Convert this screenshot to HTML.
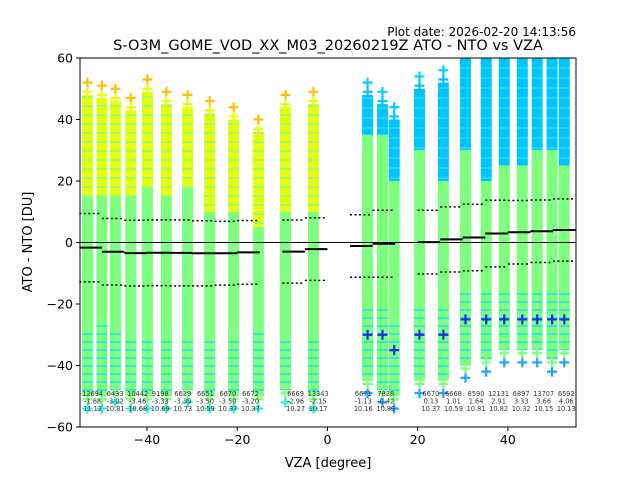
<!DOCTYPE html>
<html><head><meta charset="utf-8"><style>
body{margin:0;background:#fff;width:640px;height:480px;overflow:hidden;font-family:"DejaVu Sans","Liberation Sans",sans-serif}
svg text{font-family:"DejaVu Sans","Liberation Sans",sans-serif}
</style></head><body>
<svg id="c" width="640" height="480">
<defs>
<pattern id="pY" width="12" height="9" patternUnits="userSpaceOnUse"><rect width="12" height="9" fill="#e6ff10"/><rect y="6" width="12" height="2" fill="#9cff60"/></pattern>
<pattern id="pB" width="12" height="10" patternUnits="userSpaceOnUse"><rect width="12" height="10" fill="#00c4ff"/><rect y="7" width="12" height="2" fill="#20d8f0"/></pattern>
<pattern id="pL" width="12" height="8" patternUnits="userSpaceOnUse"><rect width="12" height="8" fill="#7fff7f"/><rect y="5" width="12" height="2" fill="#30e8d0"/></pattern>
</defs>
<text x="576" y="36" text-anchor="end" font-size="12">Plot date: 2026-02-20 14:13:56</text>
<text x="328" y="50" text-anchor="middle" font-size="14.5">S-O3M_GOME_VOD_XX_M03_20260219Z ATO - NTO vs VZA</text>
<g id="plot"></g>
<text x="328" y="467" text-anchor="middle" font-size="13">VZA [degree]</text>
<text transform="translate(32,242) rotate(-90)" text-anchor="middle" font-size="13">ATO - NTO [DU]</text>
</svg>
<script>
// column data: x, top, upper-band end, green end, bottom
const colX=[-53.2,-50,-47,-43.6,-39.9,-35.7,-31,-26.1,-20.8,-15.3,-9.3,-3.1,8.9,12.2,14.8,20.4,25.7,30.6,35.2,39.2,43.2,46.5,49.8,52.5];
const colTop=[48,47,46,43,49,45,44,42,40,36,44,45,48,45,40,50,52,60,60,60,60,60,60,60];
const colUpper=[15,15,15,15,18,15,18,10,10,5,10,10,35,35,20,30,20,30,20,25,25,30,30,25];
const colGreen=[-28,-25,-28,-30,-30,-30,-30,-30,-30,-28,-30,-30,-20,-20,-25,-20,-20,-15,-15,-15,-15,-15,-15,-15];
const colBottom=[-50,-50,-48,-50,-50,-50,-48,-50,-50,-50,-48,-50,-45,-48,-50,-45,-45,-40,-38,-35,-35,-35,-38,-35];
// bins
const binStart=[-55,-50,-45,-40,-35,-30,-25,-20,-10,-5,5,10,20,25,30,35,40,45,50];
const binCount=[12694,6433,10442,9198,6629,6651,6670,6672,6669,13343,6671,7828,6670,6668,8590,12131,6897,13707,6592];
const binMean=[-1.68,-3.02,-3.46,-3.33,-3.39,-3.50,-3.50,-3.20,-2.96,-2.15,-1.13,-0.42,0.13,1.01,1.64,2.91,3.33,3.66,4.06];
const binStd=[11.12,10.81,10.68,10.69,10.73,10.59,10.37,10.37,10.27,10.17,10.16,10.89,10.37,10.59,10.81,10.82,10.32,10.15,10.13];
const xTicks=[-40,-20,0,20,40];
const yTicks=[-60,-40,-20,0,20,40,60];

const L=80,R=576,T=58,B=427,xmin=-54.85,xmax=55.1,ymin=-60,ymax=60;
const sx=v=>L+(v-xmin)/(xmax-xmin)*(R-L);
const sy=v=>B-(v-ymin)/(ymax-ymin)*(B-T);
const NS='http://www.w3.org/2000/svg';
const g=document.getElementById('plot');
function mk(t,a,p){const e=document.createElementNS(NS,t);for(const k in a)e.setAttribute(k,a[k]);(p||g).appendChild(e);return e;}
const clip=mk('clipPath',{id:'cp'});mk('rect',{x:L,y:T,width:R-L,height:B-T},clip);
const data=mk('g',{'clip-path':'url(#cp)'});


function cross(x,y,c){mk('path',{d:`M${x-5} ${y}h10M${x} ${y-5}v10`,stroke:c,'stroke-width':2.2},data);}
colX.forEach((x,i)=>{
  const px=sx(x),w=11,right=x>0;
  const r1=mk('rect',{x:px-w/2,y:sy(colTop[i]),width:w,height:sy(colUpper[i])-sy(colTop[i]),fill:right?'url(#pB)':'url(#pY)'},data);
  
  
  const r2=mk('rect',{x:px-w/2,y:sy(colUpper[i]),width:w,height:sy(colGreen[i])-sy(colUpper[i]),fill:'#7fff7f'},data);
  
  
  const r3=mk('rect',{x:px-w/2,y:sy(colGreen[i]),width:w,height:sy(colBottom[i])-sy(colGreen[i]),fill:'url(#pL)'},data);
  
  
  cross(px,sy(colTop[i]+4),right?'#00d0ff':'#ffc000');
  cross(px,sy(colTop[i]+1),right?'#00c4ff':'#e6ff10');
  cross(px,sy(colBottom[i]-4),right?'#20a0ff':'#20f0e0');
  cross(px,sy(colBottom[i]-1),'#7fff7f');
  if(right){cross(px,sy(colGreen[i]-10),'#1a30e0');}
});
mk('line',{x1:L,x2:R,y1:sy(0),y2:sy(0),stroke:'#000','stroke-width':1});
binStart.forEach((b,i)=>{
  const x1=sx(b),x2=sx(b+5);
  const m=mk('line',{x1,x2,y1:sy(binMean[i]),y2:sy(binMean[i]),stroke:'#000','stroke-width':2});
  
  
  [1,-1].forEach(s=>{const d=mk('line',{x1,x2,y1:sy(binMean[i]+s*binStd[i]),y2:sy(binMean[i]+s*binStd[i]),stroke:'#000','stroke-width':1.5,'stroke-dasharray':'2,2.5'});
    
    });
  const cx=(x1+x2)/2+2;
  [String(binCount[i]),binMean[i].toFixed(2),binStd[i].toFixed(2)].forEach((t,k)=>{
    const e=mk('text',{x:cx,y:396+k*7.5,'text-anchor':'middle','font-size':6.6,fill:'#333'});e.textContent=t;
    
    });
});
mk('rect',{x:L,y:T,width:R-L,height:B-T,fill:'none',stroke:'#000','stroke-width':1});
xTicks.forEach(v=>{mk('line',{x1:sx(v),x2:sx(v),y1:B,y2:B+4,stroke:'#000'});
  const t=mk('text',{x:sx(v),y:B+17,'text-anchor':'middle','font-size':12.5});t.textContent=v<0?'\u2212'+(-v):v;
  
  });
yTicks.forEach(v=>{mk('line',{x1:L-4,x2:L,y1:sy(v),y2:sy(v),stroke:'#000'});
  const t=mk('text',{x:L-7,y:sy(v)+4.5,'text-anchor':'end','font-size':12.5});t.textContent=v<0?'\u2212'+(-v):v;
  
  });
</script>
</body></html>
